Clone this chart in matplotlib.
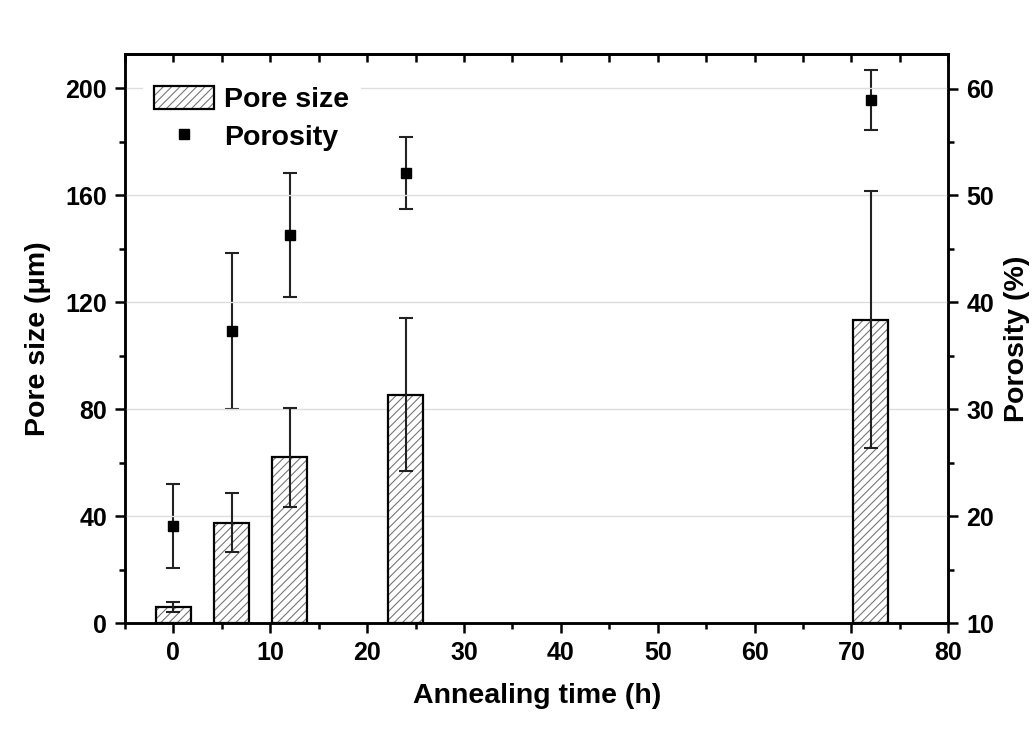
import numpy as np
import matplotlib
matplotlib.use("Agg")
import matplotlib.pyplot as plt
from matplotlib.ticker import MultipleLocator
from matplotlib.patches import Patch
from matplotlib.lines import Line2D
from matplotlib.legend_handler import HandlerTuple

plt.rcParams['font.family'] = ['Liberation Sans', 'DejaVu Sans']
plt.rcParams['font.weight'] = 'bold'
plt.rcParams['hatch.linewidth'] = 0.8

# annealing time (h)
time_h = [0, 6, 12, 24, 72]
# pore size (um) with std
pore_size = [6, 37.5, 62, 85.5, 113.5]
pore_err = [2, 11, 18.5, 28.5, 48]
# porosity (%) with std
porosity = [19.1, 37.3, 46.3, 52.1, 58.9]
poro_err = [3.9, 7.3, 5.8, 3.4, 2.8]

fig = plt.figure(figsize=(10.33, 7.34), dpi=100)
ax = fig.add_axes([0.121, 0.151, 0.797, 0.775])
ax2 = ax.twinx()

ax.set_zorder(ax2.get_zorder() + 1)
ax.patch.set_visible(False)

# gridlines on the pore-size axis
for v in [40, 80, 120, 160, 200]:
    ax.axhline(v, color='#dedede', lw=1.0, zorder=0)

# hatched bars: gray hatch layer, then black outline
ax.bar(time_h, pore_size, width=3.6, color='white', edgecolor='#777777',
       hatch='////', linewidth=0, zorder=2)
ax.bar(time_h, pore_size, width=3.6, fill=False, edgecolor='black',
       linewidth=1.6, zorder=3)
ax.errorbar(time_h, pore_size, yerr=pore_err, fmt='none', ecolor='#222222',
            elinewidth=1.5, capsize=5, capthick=1.5, zorder=4)

ax2.errorbar(time_h, porosity, yerr=poro_err, fmt='s', color='black',
             ms=6.5, ecolor='#222222', elinewidth=1.5, capsize=5,
             capthick=1.5)

ax.set_xlim(-5, 80)
ax.set_ylim(0, 212.7)
ax2.set_ylim(10, 63.2)

ax.xaxis.set_major_locator(MultipleLocator(10))
ax.xaxis.set_minor_locator(MultipleLocator(5))
ax.yaxis.set_major_locator(MultipleLocator(40))
ax.yaxis.set_minor_locator(MultipleLocator(20))
ax2.yaxis.set_major_locator(MultipleLocator(10))
ax2.yaxis.set_minor_locator(MultipleLocator(5))
ax.set_xticks(range(0, 81, 10))

ax.tick_params(axis='both', which='major', direction='out', length=7,
               width=1.8, labelsize=18, pad=6)
ax.tick_params(axis='both', which='minor', direction='out', length=4.5,
               width=1.8)
ax2.tick_params(axis='y', which='major', direction='out', length=7,
                width=1.8, labelsize=18, pad=6)
ax2.tick_params(axis='y', which='minor', direction='out', length=4.5,
                width=1.8)
ax2.tick_params(axis='x', top=False, bottom=False)

# inward ticks along the top edge
top = ax.secondary_xaxis('top')
top.xaxis.set_major_locator(MultipleLocator(10))
top.xaxis.set_minor_locator(MultipleLocator(5))
top.tick_params(which='both', direction='in', length=6, width=1.8,
                labeltop=False)
top.spines['top'].set_linewidth(1.8)

for a in (ax, ax2):
    for s in a.spines.values():
        s.set_linewidth(1.8)

ax.set_xlabel('Annealing time (h)', fontsize=20.5, fontweight='bold', labelpad=13)
ax.set_ylabel('Pore size (\u03bcm)', fontsize=20.5, fontweight='bold', labelpad=10)
ax2.set_ylabel('Porosity (%)', fontsize=20.5, fontweight='bold', labelpad=7)

h_hatch = Patch(facecolor='white', edgecolor='#777777', hatch='////', linewidth=0)
h_edge = Patch(facecolor='none', edgecolor='black', linewidth=1.6)
h_pt = Line2D([], [], ls='none', marker='s', color='black', ms=6.5)
leg = ax.legend([(h_hatch, h_edge), h_pt], ['Pore size', 'Porosity'],
                handler_map={tuple: HandlerTuple(ndivide=1, pad=0)},
                loc='upper left', bbox_to_anchor=(0.015, 0.975), fontsize=20.5,
                frameon=True, handlelength=2.1, handleheight=0.9,
                labelspacing=0.35, handletextpad=0.35, borderaxespad=0.2)
leg.get_frame().set_edgecolor('none')
leg.get_frame().set_facecolor('white')
leg.get_frame().set_alpha(1)

fig.savefig('out.png', dpi=100)
